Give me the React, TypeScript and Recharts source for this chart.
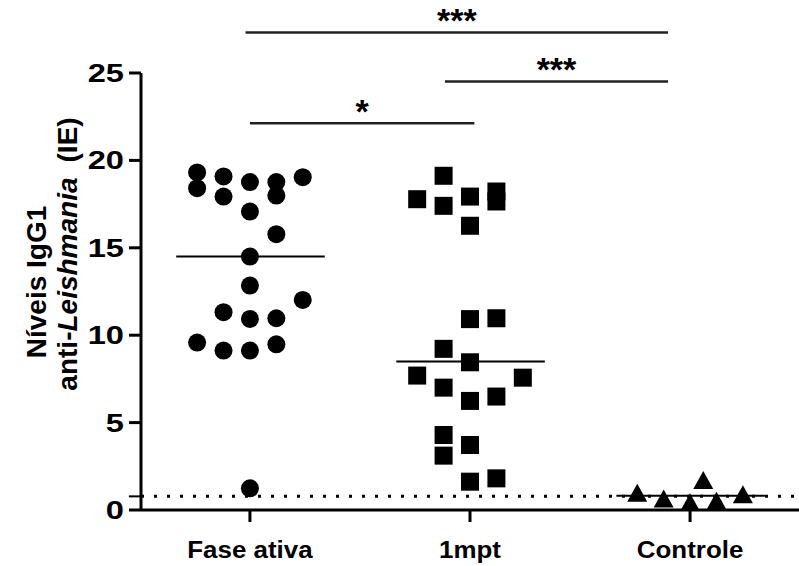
import { ScatterChart, Scatter, XAxis, YAxis, ReferenceLine } from 'recharts';

const categories = ['Fase ativa', '1mpt', 'Controle'];
const yTicks = [0, 5, 10, 15, 20, 25];

// [posição horizontal dentro do grupo, nível de IgG1]
const faseAtiva: [number, number][] = [
    [-2, 19.31], [-2, 18.41], [-1, 19.08], [-1, 17.93], [0, 18.76], [1, 18.76], [1, 17.99],
    [2, 19.04], [0, 17.07], [1, 15.78], [0, 14.5], [0, 12.84], [2, 12.02], [-1, 11.32],
    [0, 10.93], [1, 10.97], [-2, 9.58], [-1, 9.12], [0, 9.12], [1, 9.48], [0, 1.24],
];
const umMpt: [number, number][] = [
    [-1, 19.12], [-2, 17.78], [-1, 17.4], [0, 17.93], [1, 18.22], [1, 17.65], [0, 16.26],
    [0, 10.92], [1, 10.97], [-1, 9.22], [0, 8.45], [-2, 7.69], [-1, 7.0], [0, 6.24],
    [1, 6.49], [2, 7.57], [-1, 4.29], [-1, 3.11], [0, 3.72], [0, 1.62], [1, 1.81],
];
const controle: [number, number][] = [
    [-2, 0.81], [-1, 0.48], [0, 0.27], [0.5, 1.54], [1, 0.36], [2, 0.73],
];
const medianas = [14.5, 8.49, 0.82];
const cutoff = 0.78;

// comparações estatísticas (linhas acima dos grupos)
const comparacoes = [
    { de: -0.02, ate: 1.9, nivel: 27.32, sig: '***' },
    { de: 0.886, ate: 1.9, nivel: 24.52, sig: '***' },
    { de: 0, ate: 1.02, nivel: 22.13, sig: '*' },
];

const STEP = 0.12;
const toPoints = (arr: [number, number][], g: number) =>
    arr.map(([slot, v]) => ({ x: g + slot * STEP, y: v }));

const Circle = (p: any) => <circle cx={p.cx} cy={p.cy} r={9} fill="#000" />;
const Square = (p: any) => <rect x={p.cx - 9} y={p.cy - 9} width={18} height={18} fill="#000" />;
const Triangle = (p: any) => (
    <path d={`M${p.cx},${p.cy - 12}L${p.cx + 10},${p.cy + 6}L${p.cx - 10},${p.cy + 6}Z`} fill="#000" />
);

// o texto do original é mais largo que o Arial normal
const YTick = (p: any) => (
    <g transform={`translate(${p.x},${p.y})`}>
        <text transform="scale(1.28,1)" textAnchor="end" dy="0.355em" fontSize={25.5} fontWeight={700} fill="#000">
            {p.payload.value}
        </text>
    </g>
);
const XTick = (p: any) => (
    <g transform={`translate(${p.x},${p.y})`}>
        <text transform="scale(1.08,1)" textAnchor="middle" dy="0.71em" fontSize={24} fontWeight={700} fill="#000">
            {categories[Math.round(p.payload.value)]}
        </text>
    </g>
);

export default function App() {
    const font = '"Liberation Sans", Arial, sans-serif';
    return (
        <div style={{ position: 'absolute', left: 0, top: 0, width: 799, height: 566, background: '#fff', fontFamily: font }}>
            <ScatterChart width={799} height={566} margin={{ top: 73, right: 0, bottom: 0, left: 0 }}>
                <XAxis
                    type="number"
                    dataKey="x"
                    domain={[-0.495, 2.495]}
                    ticks={[0, 1, 2]}
                    interval={0}
                    allowDataOverflow
                    height={56}
                    tickSize={12}
                    tickMargin={19}
                    axisLine={{ stroke: '#000', strokeWidth: 3 }}
                    tickLine={{ stroke: '#000', strokeWidth: 3 }}
                    tick={XTick}
                />
                <YAxis
                    type="number"
                    dataKey="y"
                    domain={[0, 25]}
                    ticks={yTicks}
                    interval={0}
                    allowDataOverflow
                    width={141}
                    tickSize={12}
                    tickMargin={5}
                    axisLine={{ stroke: '#000', strokeWidth: 3 }}
                    tickLine={{ stroke: '#000', strokeWidth: 3 }}
                    tick={YTick}
                />

                {/* linha de corte */}
                <ReferenceLine y={cutoff} stroke="#000" strokeWidth={3} strokeDasharray="3 10" />
                <ReferenceLine
                    segment={[{ x: -0.55, y: cutoff }, { x: -0.495, y: cutoff }]}
                    stroke="#000"
                    strokeWidth={2}
                    ifOverflow="visible"
                />

                <Scatter data={toPoints(faseAtiva, 0)} shape={Circle} isAnimationActive={false} />
                <Scatter data={toPoints(umMpt, 1)} shape={Square} isAnimationActive={false} />
                <Scatter data={toPoints(controle, 2)} shape={Triangle} isAnimationActive={false} />

                {/* medianas */}
                {medianas.map((m, g) => (
                    <ReferenceLine
                        key={'med' + g}
                        segment={[{ x: g - 0.335, y: m }, { x: g + 0.34, y: m }]}
                        stroke="#000"
                        strokeWidth={2}
                        ifOverflow="visible"
                    />
                ))}

                {comparacoes.map((c, i) => (
                    <ReferenceLine
                        key={'cmp' + i}
                        segment={[{ x: c.de, y: c.nivel }, { x: c.ate, y: c.nivel }]}
                        stroke="#222"
                        strokeWidth={2.5}
                        ifOverflow="visible"
                        label={{ value: c.sig, position: 'top', offset: 0, fontSize: 34, fontWeight: 700, fill: '#000' }}
                    />
                ))}
            </ScatterChart>

            <svg width={120} height={566} style={{ position: 'absolute', left: 0, top: 0, pointerEvents: 'none' }}>
                <text transform="translate(46,282) rotate(-90)" textAnchor="middle" fontSize={28} fontWeight={700} fill="#000">
                    Níveis IgG1
                </text>
                <text transform="translate(77,254) rotate(-90)" textAnchor="middle" fontSize={28} fontWeight={700} fill="#000">
                    anti-<tspan fontStyle="italic">Leishmania</tspan>
                    <tspan dx={15}>(IE)</tspan>
                </text>
            </svg>
        </div>
    );
}
